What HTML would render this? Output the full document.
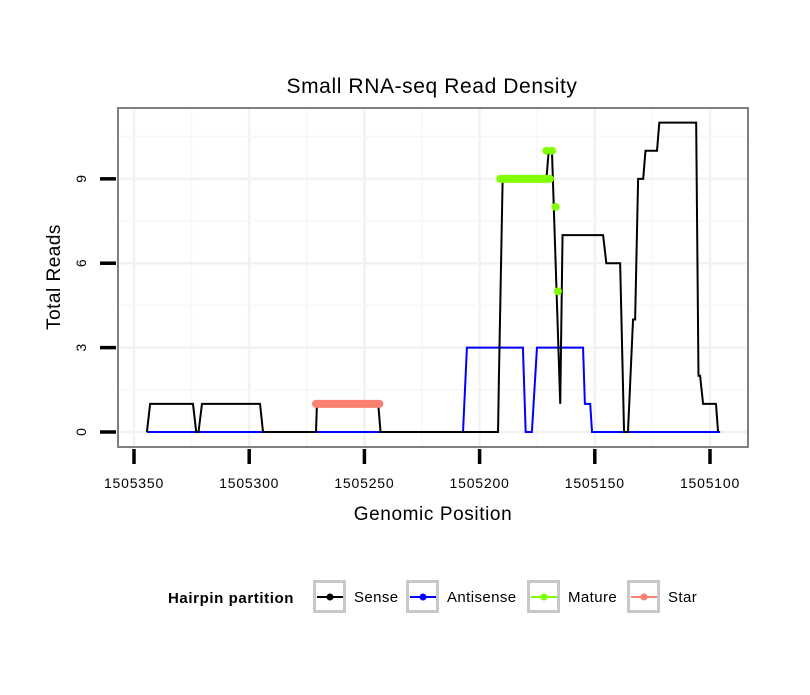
<!DOCTYPE html>
<html><head><meta charset="utf-8"><style>
body{margin:0;background:#fff;font-family:"Liberation Sans",sans-serif;}
</style></head><body>
<svg id="c" width="810" height="690" xmlns="http://www.w3.org/2000/svg">
<rect width="810" height="690" fill="#fff"/>
<text x="432" y="93" text-anchor="middle" font-size="21" letter-spacing="0.6">Small RNA-seq Read Density</text>
<g id="grid"></g>
<g id="marks"></g>
<rect x="118" y="108" width="630" height="339" fill="none" stroke="#808080" stroke-width="2"/>
<g id="axes"></g>
<text x="433" y="520" text-anchor="middle" font-size="19" letter-spacing="0.6">Genomic Position</text>
<text transform="translate(60,277) rotate(-90)" text-anchor="middle" font-size="19" letter-spacing="0.5">Total Reads</text>
<g id="legend">
<text x="168" y="603" font-size="15" font-weight="bold" letter-spacing="0.6">Hairpin partition</text>
</g>
</svg>
<script>
const xTicks=[1505350,1505300,1505250,1505200,1505150,1505100];
const yTicks=[0,3,6,9];
const senseX=[1505344.4,1505343,1505324.4,1505323,1505322,1505320.5,1505295.3,1505294,1505271,1505270.6,1505244,1505243,1505192,1505191.6,1505190,1505171,1505170,1505168.6,1505165,1505164,1505146.4,1505145,1505139,1505137.3,1505135.6,1505133.4,1505132.5,1505131.2,1505129,1505128,1505123,1505122,1505106,1505105,1505104.3,1505103,1505097.4,1505096.5];
const senseY=[0,1,1,0,0,1,1,0,0,1,1,0,0,2,9,9,10,10,1,7,7,6,6,0,0,4,4,9,9,10,10,11,11,2,2,1,1,0];
const antiX=[1505344.4,1505207.2,1505205.5,1505181.2,1505180,1505177.3,1505175.1,1505155.1,1505154.3,1505152,1505151.2,1505095.6];
const antiY=[0,0,3,3,0,0,3,3,1,1,0,0];
const matureX=[1505191,1505169.5];
const matureY=[9,9];
const maturePtX=[1505171,1505168.5,1505167,1505166];
const maturePtY=[10,10,8,5];
const starX=[1505271,1505243.5];
const starY=[1,1];
const legendLabels=["Sense","Antisense","Mature","Star"];
const legendColors=["#000000","#0000ff","#7fff00","#fa8072"];

const NS="http://www.w3.org/2000/svg";
const X=v=>134+(1505350-v)*2.304;
const Y=v=>432-v*28.13;
function mk(tag,attrs,parent){const e=document.createElementNS(NS,tag);for(const k in attrs)e.setAttribute(k,attrs[k]);document.getElementById(parent).appendChild(e);return e;}
for(let i=0;i<xTicks.length;i++){
  let g=mk('line',{x1:X(xTicks[i]),x2:X(xTicks[i]),y1:109,y2:446,stroke:'#f2f2f2','stroke-width':2.5},'grid');
  
  
  const mx=X(xTicks[i]-25);
  if(mx<747){
    let m=mk('line',{x1:mx,x2:mx,y1:109,y2:446,stroke:'#f7f7f7','stroke-width':1.5},'grid');
    
    
  }
}
for(let i=0;i<yTicks.length;i++){
  let g=mk('line',{x1:119,x2:747,y1:Y(yTicks[i]),y2:Y(yTicks[i]),stroke:'#f2f2f2','stroke-width':2.5},'grid');
  
  
  let m=mk('line',{x1:119,x2:747,y1:Y(yTicks[i]+1.5),y2:Y(yTicks[i]+1.5),stroke:'#f7f7f7','stroke-width':1.5},'grid');
  
  
}
function pts(xs,ys){return xs.map((v,i)=>X(v)+','+Y(ys[i])).join(' ');}
let a=mk('polyline',{points:pts(antiX,antiY),fill:'none',stroke:'#0000ff','stroke-width':2},'marks');


let s=mk('polyline',{points:pts(senseX,senseY),fill:'none',stroke:'#000','stroke-width':2},'marks');


let st=mk('polyline',{points:pts(starX,starY),fill:'none',stroke:'#fa8072','stroke-width':8,'stroke-linecap':'round'},'marks');


let mt=mk('polyline',{points:pts(matureX,matureY),fill:'none',stroke:'#7fff00','stroke-width':8,'stroke-linecap':'round'},'marks');


for(let i=0;i<maturePtX.length;i++){
  let p=mk('circle',{cx:X(maturePtX[i]),cy:Y(maturePtY[i]),r:4,fill:'#7fff00'},'marks');
  
  
}
for(let i=0;i<xTicks.length;i++){
  let t=mk('line',{x1:X(xTicks[i]),x2:X(xTicks[i]),y1:449,y2:464,stroke:'#000','stroke-width':3.5},'axes');
  
  
  let l=mk('text',{x:X(xTicks[i]),y:488,'text-anchor':'middle','font-size':14,'letter-spacing':'0.8'},'axes');
  l.textContent=xTicks[i];
  
  
}
for(let i=0;i<yTicks.length;i++){
  let t=mk('line',{x1:100,x2:116,y1:Y(yTicks[i]),y2:Y(yTicks[i]),stroke:'#000','stroke-width':3.5},'axes');
  
  
  let l=mk('text',{transform:`translate(86,${Y(yTicks[i])}) rotate(-90)`,'text-anchor':'middle','font-size':14},'axes');
  l.textContent=yTicks[i];
  
  
}
const keyX=[313,406,527,627];
for(let i=0;i<legendLabels.length;i++){
  let b=mk('rect',{x:keyX[i]+1.5,y:581.5,width:30,height:30,fill:'#fff',stroke:'#c8c8c8','stroke-width':3},'legend');
  
  
  let l=mk('line',{x1:keyX[i]+4,x2:keyX[i]+30,y1:597,y2:597,stroke:legendColors[i],'stroke-width':2},'legend');
  
  
  let c=mk('circle',{cx:keyX[i]+17,cy:597,r:3.5,fill:legendColors[i]},'legend');
  
  
  let t=mk('text',{x:keyX[i]+41,y:602,'font-size':15,'letter-spacing':'0.4'},'legend');
  t.textContent=legendLabels[i];
  
  
}
</script>
</body></html>
